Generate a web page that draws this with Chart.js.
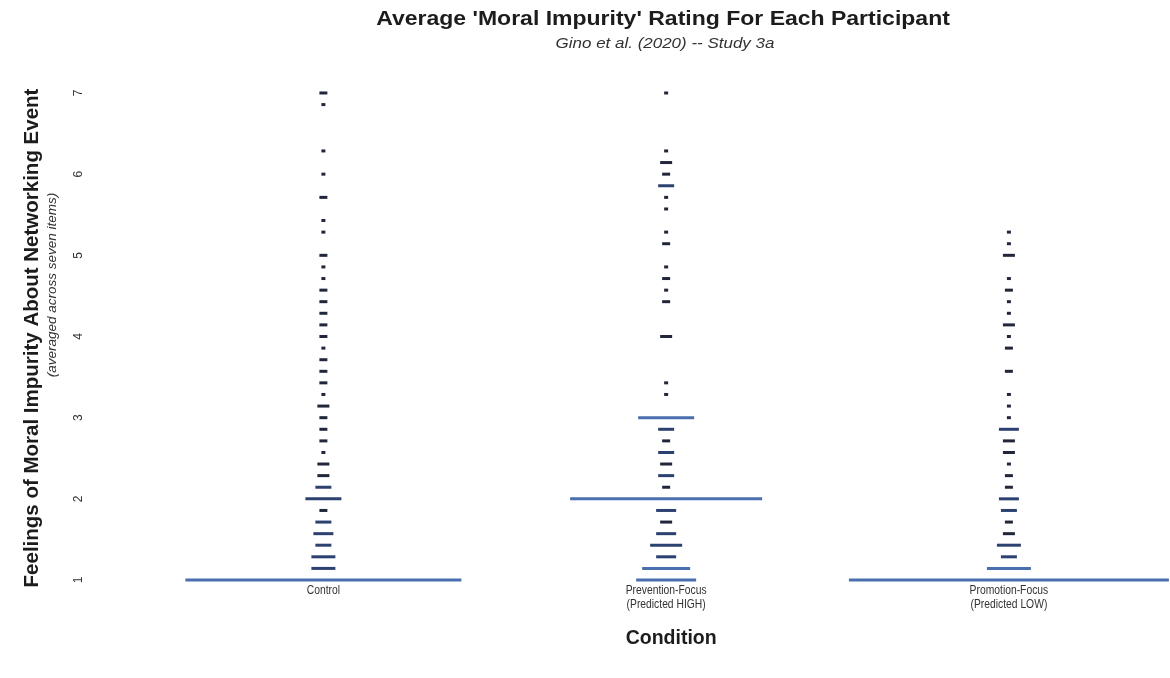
<!DOCTYPE html>
<html>
<head>
<meta charset="utf-8">
<script src="https://cdn.jsdelivr.net/npm/chart.js@4.4.1/dist/chart.umd.min.js"></script>
<style>
  html, body { margin: 0; padding: 0; background: #ffffff; }
  #wrap { width: 1170px; height: 678px; position: relative; }
</style>
</head>
<body>
<div id="wrap"><canvas id="c" width="1170" height="678"></canvas></div>
<script>
// ---------------- DATA ----------------
const categories = [
  ['Control'],
  ['Prevention-Focus', '(Predicted HIGH)'],
  ['Promotion-Focus', '(Predicted LOW)']
];
const yTicks = [1, 2, 3, 4, 5, 6, 7];

// average ratings (multiples of 1/7) and number of participants at each
const controlValues = [7, 6.857, 6.286, 6, 5.714, 5.429, 5.286, 5, 4.857, 4.714, 4.571, 4.429, 4.286, 4.143, 4,
  3.857, 3.714, 3.571, 3.429, 3.286, 3.143, 3, 2.857, 2.714, 2.571, 2.429, 2.286, 2.143, 2,
  1.857, 1.714, 1.571, 1.429, 1.286, 1.143, 1];
const controlCounts = [2, 1, 1, 1, 2, 1, 1, 2, 1, 1, 2, 2, 2, 2, 2,
  1, 2, 2, 2, 1, 3, 2, 2, 2, 1, 3, 3, 4, 9,
  2, 4, 5, 4, 6, 6, 69];

const preventionValues = [7, 6.286, 6.143, 6, 5.857, 5.714, 5.571, 5.286, 5.143, 4.857, 4.714, 4.571, 4.429, 4,
  3.429, 3.286, 3, 2.857, 2.714, 2.571, 2.429, 2.286, 2.143, 2,
  1.857, 1.714, 1.571, 1.429, 1.286, 1.143, 1];
const preventionCounts = [1, 1, 3, 2, 4, 1, 1, 1, 2, 1, 2, 1, 2, 3,
  1, 1, 14, 4, 2, 4, 3, 4, 2, 48,
  5, 3, 5, 8, 5, 12, 15];

const promotionValues = [5.286, 5.143, 5, 4.714, 4.571, 4.429, 4.286, 4.143, 4, 3.857, 3.571,
  3.286, 3.143, 3, 2.857, 2.714, 2.571, 2.429, 2.286, 2.143, 2,
  1.857, 1.714, 1.571, 1.429, 1.286, 1.143, 1];
const promotionCounts = [1, 1, 3, 1, 2, 1, 1, 3, 1, 2, 2,
  1, 1, 1, 5, 3, 3, 1, 2, 2, 5,
  4, 2, 3, 6, 4, 11, 80];

// ---------------- CHART ----------------
const PX_PER_PERSON = 4;
const FONT = "'Liberation Sans', Arial, sans-serif";

function makeDataset(catIdx, values, counts) {
  return {
    data: values.map(v => ({ x: catIdx + 1, y: v })),
    showLine: false,
    pointStyle: 'line',
    pointRadius: counts.map(c => c * PX_PER_PERSON / 2),
    pointBorderWidth: 3,
    pointBorderColor: counts.map(c => c >= 10 ? '#4a6fae' : (c >= 4 ? '#2c4170' : '#22263a')),
    pointBackgroundColor: 'transparent',
    clip: false
  };
}

function rotText(ctx, txt, x, y, font, color) {
  ctx.save();
  ctx.translate(x, y);
  ctx.rotate(-Math.PI / 2);
  ctx.font = font;
  ctx.fillStyle = color;
  ctx.fillText(txt, 0, 0);
  ctx.restore();
}

function wideText(ctx, txt, x, y, font, color, sx) {
  ctx.save();
  ctx.translate(x, y);
  ctx.scale(sx, 1);
  ctx.font = font;
  ctx.fillStyle = color;
  ctx.fillText(txt, 0, 0);
  ctx.restore();
}

const textPlugin = {
  id: 'textPlugin',
  afterDraw(chart) {
    const ctx = chart.ctx;
    const xs = chart.scales.x, ys = chart.scales.y;
    ctx.save();
    ctx.textAlign = 'center';
    ctx.textBaseline = 'middle';
    // title
    wideText(ctx, "Average 'Moral Impurity' Rating For Each Participant", 663, 19, "bold 20px " + FONT, '#1c1c1c', 1.15);
    wideText(ctx, "Gino et al. (2020) -- Study 3a", 665, 44, "italic 14.5px " + FONT, '#333', 1.17);

    // y tick labels (rotated)
    yTicks.forEach(t => {
      rotText(ctx, String(t), 79, ys.getPixelForValue(t), "12px " + FONT, '#333');
    });

    // y titles
    rotText(ctx, "Feelings of Moral Impurity About Networking Event", 32, 338, "bold 20.5px " + FONT, '#1c1c1c');
    rotText(ctx, "(averaged across seven items)", 52, 285, "italic 13.5px " + FONT, '#333');

    // x category labels (condensed)
    categories.forEach((lines, i) => {
      const px = xs.getPixelForValue(i + 1);
      lines.forEach((ln, j) => wideText(ctx, ln, px, 591 + j * 14, "12px " + FONT, '#333', 0.86));
    });

    // x title
    ctx.font = "bold 19.5px " + FONT;
    ctx.fillStyle = '#1c1c1c';
    ctx.fillText("Condition", xs.getPixelForValue(2) + 5, 639);
    ctx.restore();
  }
};

new Chart(document.getElementById('c'), {
  type: 'scatter',
  data: {
    datasets: [
      makeDataset(0, controlValues, controlCounts),
      makeDataset(1, preventionValues, preventionCounts),
      makeDataset(2, promotionValues, promotionCounts)
    ]
  },
  options: {
    responsive: false,
    animation: false,
    events: [],
    layout: { autoPadding: false, padding: { left: 152, right: 0, top: 73.5, bottom: 78.5 } },
    plugins: { legend: { display: false }, tooltip: { enabled: false }, title: { display: false } },
    scales: {
      x: { type: 'linear', min: 0.5, max: 3.47, display: false },
      y: { type: 'linear', min: 0.76, max: 7.24, display: false }
    }
  },
  plugins: [textPlugin]
});
</script>
</body>
</html>
